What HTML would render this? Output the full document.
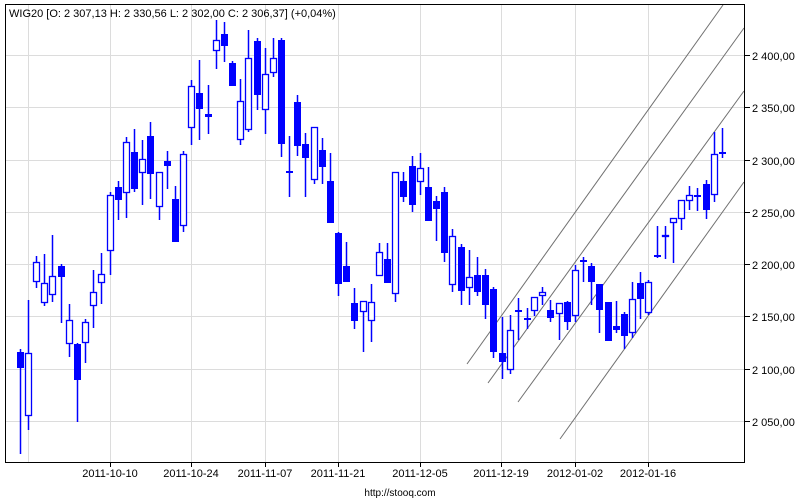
<!DOCTYPE html>
<html><head><meta charset="utf-8"><style>
body{margin:0;background:#fff;}
svg{display:block;font-family:"Liberation Sans",Arial,sans-serif;}
</style></head><body>
<svg id="s" width="800" height="500" viewBox="0 0 800 500" xmlns="http://www.w3.org/2000/svg">
<rect width="800" height="500" fill="#fff"/>
<g stroke="#dcdcdc" stroke-width="1">
<line x1="5" x2="744" y1="55.5" y2="55.5"/><line x1="5" x2="744" y1="107.5" y2="107.5"/>
<line x1="5" x2="744" y1="160.5" y2="160.5"/><line x1="5" x2="744" y1="212.5" y2="212.5"/>
<line x1="5" x2="744" y1="264.5" y2="264.5"/><line x1="5" x2="744" y1="316.5" y2="316.5"/>
<line x1="5" x2="744" y1="369.5" y2="369.5"/><line x1="5" x2="744" y1="421.5" y2="421.5"/>
<line y1="4" y2="462" x1="28.5" x2="28.5"/><line y1="4" y2="462" x1="110.5" x2="110.5"/>
<line y1="4" y2="462" x1="191.5" x2="191.5"/><line y1="4" y2="462" x1="265.5" x2="265.5"/>
<line y1="4" y2="462" x1="338.5" x2="338.5"/><line y1="4" y2="462" x1="420.5" x2="420.5"/>
<line y1="4" y2="462" x1="501.5" x2="501.5"/><line y1="4" y2="462" x1="575.5" x2="575.5"/>
<line y1="4" y2="462" x1="648.5" x2="648.5"/>
</g>
<g stroke="#707070" stroke-width="1" fill="none">
<line x1="467" y1="364" x2="723" y2="5"/>
<line x1="488" y1="383" x2="744" y2="28"/>
<line x1="518" y1="402" x2="744" y2="91"/>
<line x1="560" y1="439" x2="744" y2="182"/>
</g>
<g id="c"></g>
<rect x="5.5" y="4.5" width="739" height="458" fill="none" stroke="#000" stroke-width="1"/>
<g stroke="#000">
<line x1="745" x2="750" y1="55.5" y2="55.5"/><line x1="745" x2="750" y1="107.5" y2="107.5"/>
<line x1="745" x2="750" y1="160.5" y2="160.5"/><line x1="745" x2="750" y1="212.5" y2="212.5"/>
<line x1="745" x2="750" y1="264.5" y2="264.5"/><line x1="745" x2="750" y1="316.5" y2="316.5"/>
<line x1="745" x2="750" y1="369.5" y2="369.5"/><line x1="745" x2="750" y1="421.5" y2="421.5"/>
<line y1="463" y2="467" x1="110.5" x2="110.5"/><line y1="463" y2="467" x1="191.5" x2="191.5"/>
<line y1="463" y2="467" x1="265.5" x2="265.5"/><line y1="463" y2="467" x1="338.5" x2="338.5"/>
<line y1="463" y2="467" x1="420.5" x2="420.5"/><line y1="463" y2="467" x1="501.5" x2="501.5"/>
<line y1="463" y2="467" x1="575.5" x2="575.5"/><line y1="463" y2="467" x1="648.5" x2="648.5"/>
</g>
<g font-size="11" fill="#000">
<text x="752" y="60">2 400,00</text><text x="752" y="112">2 350,00</text>
<text x="752" y="165">2 300,00</text><text x="752" y="217">2 250,00</text>
<text x="752" y="269">2 200,00</text><text x="752" y="321">2 150,00</text>
<text x="752" y="374">2 100,00</text><text x="752" y="426">2 050,00</text>
</g>
<g font-size="11" fill="#000" text-anchor="middle">
<text x="110" y="477">2011-10-10</text><text x="191" y="477">2011-10-24</text>
<text x="265" y="477">2011-11-07</text><text x="338" y="477">2011-11-21</text>
<text x="420" y="477">2011-12-05</text><text x="501" y="477">2011-12-19</text>
<text x="575" y="477">2012-01-02</text><text x="648" y="477">2012-01-16</text>
<text x="400" y="496" font-size="10">http://stooq.com</text>
</g>
<text x="9" y="17" font-size="11" fill="#000">WIG20 [O: 2 307,13  H: 2 330,56  L: 2 302,00  C: 2 306,37] (+0,04%)</text>
</svg>
<script>
var d=[
[20,1,352,368,349,454],[28,0,353,416,300,430],[36,0,262,282,256,288],[44,0,283,303,254,306],
[52,0,276,295,235,302],[61,1,266,277,264,323],[69,0,320,344,304,357],[77,1,344,380,343,422],
[85,0,322,343,319,363],[93,0,292,306,270,328],[101,0,274,283,253,304],[110,0,195,251,192,275],
[118,1,187,200,181,220],[126,0,142,193,137,218],[134,1,152,189,129,192],[142,0,159,173,140,205],
[150,1,136,174,122,199],[159,0,172,207,172,220],[167,1,161,166,151,189],[175,1,199,242,186,242],
[183,0,154,226,151,232],[191,0,86,128,80,145],[199,1,93,109,60,140],[208,1,114,117,85,134],
[216,0,40,51,20,69],[224,1,34,46,22,62],[232,1,63,86,61,86],[240,0,101,140,79,145],
[248,0,58,130,30,132],[257,1,41,95,38,110],[265,0,74,110,48,134],[273,0,58,73,38,77],
[281,1,40,144,38,157],[289,1,171,173,136,197],[297,1,102,146,95,156],[305,1,144,158,133,197],
[314,0,127,180,127,184],[322,1,150,167,138,184],[330,1,181,223,153,223],[338,1,233,284,232,296],
[346,1,266,282,242,282],[354,1,303,321,288,329],[363,0,301,312,301,352],[371,0,302,321,284,342],
[379,0,252,276,243,276],[387,1,259,283,243,283],[395,0,172,294,172,302],[403,1,181,197,172,202],
[412,1,166,205,156,212],[420,0,168,182,153,195],[428,1,187,221,167,221],[436,1,201,209,196,241],
[444,1,192,253,187,262],[452,0,236,285,229,292],[461,1,247,291,244,305],[469,0,277,288,250,305],
[477,1,275,292,257,296],[485,1,275,305,269,319],[493,1,289,352,287,358],[502,1,353,362,317,379],
[510,0,330,370,315,374],[518,1,310,312,298,340],[527,1,318,320,308,329],[534,0,297,311,297,316],
[542,0,292,296,287,305],[550,1,310,318,300,322],[559,0,303,314,303,340],[567,1,302,322,301,330],
[575,0,270,316,265,322],[583,1,260,262,257,282],[591,1,266,282,263,305],[599,1,284,310,284,333],
[608,1,302,341,302,341],[616,1,326,330,301,333],[624,1,314,336,312,349],[632,0,299,333,282,338],
[640,1,283,299,272,319],[648,0,282,313,280,315],[657,1,255,257,226,258],[665,0,235,237,226,259],
[673,0,218,223,218,263],[681,0,200,219,200,230],[689,0,195,201,186,210],[697,1,195,197,188,211],
[706,1,184,210,180,219],[714,0,154,195,132,202],[722,1,152,154,128,158]];
var g=document.getElementById('c'),h='';
d.forEach(function(c){var x=c[0],t=c[2],b=c[3];
h+='<line x1="'+(x+.5)+'" x2="'+(x+.5)+'" y1="'+c[4]+'" y2="'+c[5]+'" stroke="#0000ff" stroke-width="1.5"/>';
if(c[1])h+='<rect x="'+(x-3)+'" y="'+t+'" width="7" height="'+Math.max(b-t,2)+'" fill="#0000ff"/>';
else h+='<rect x="'+(x-2.5)+'" y="'+(t+.5)+'" width="6" height="'+Math.max(b-t-1,1)+'" fill="#fff" stroke="#0000ff" stroke-width="1.3"/>';
});
g.innerHTML=h;
</script>
</body></html>
